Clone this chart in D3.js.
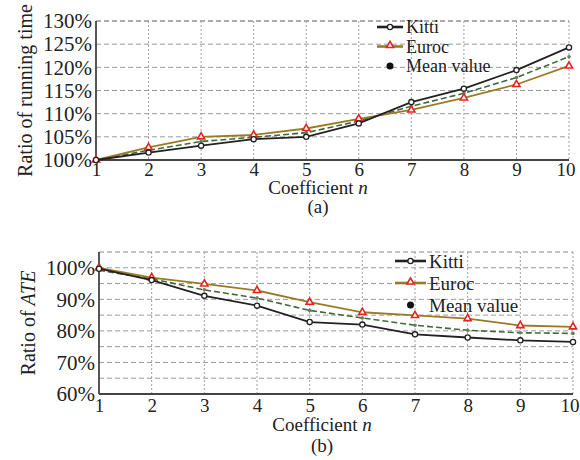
<!DOCTYPE html>
<html>
<head>
<meta charset="utf-8">
<script src="https://cdn.jsdelivr.net/npm/d3@7"></script>
<style>
  body { margin: 0; background: #fff; }
  svg text { font-family: "Liberation Serif", "DejaVu Serif", serif; fill: #222; }
</style>
</head>
<body>
<div id="chart"></div>
<script>
// data
var coeff = [1, 2, 3, 4, 5, 6, 7, 8, 9, 10];

var timeKitti = [100, 101.6, 103.1, 104.5, 105.0, 107.9, 112.5, 115.4, 119.4, 124.3];
var timeEuroc = [100, 102.7, 105.0, 105.4, 106.8, 108.9, 110.8, 113.4, 116.3, 120.3];
var timeMean  = [100, 102.1, 104.0, 104.9, 105.9, 108.4, 111.6, 114.4, 117.8, 122.3];
var timeTicks = [100, 105, 110, 115, 120, 125, 130];

var ateKitti = [99.7, 96.1, 91.1, 88.0, 82.8, 82.0, 78.9, 77.9, 77.0, 76.5];
var ateEuroc = [100, 96.9, 94.9, 92.8, 89.1, 85.9, 84.9, 83.9, 81.7, 81.3];
var ateMean  = [99.2, 96.5, 93.0, 90.4, 86.5, 84.1, 81.8, 80.2, 79.4, 79.2];
var ateTicks = [60, 70, 80, 90, 100];
var ateGrid  = [60, 65, 70, 75, 80, 85, 90, 95, 100];

var legendNames = ["Kitti", "Euroc", "Mean value"];

var width = 580, height = 460;
var svg = d3.select('#chart').append('svg')
            .attr('width', width)
            .attr('height', height);

var euColor = '#9a7b25';
var meanColor = '#3f6b3a';

function panel(opt) {
  var x = d3.scaleLinear().domain([1, 10]).range([opt.left, opt.right]);
  var y = d3.scaleLinear().domain(opt.yDomain).range([opt.bottom, opt.top]);
  var g = svg.append('g');

  // horizontal dashed grid
  g.selectAll('.hg').data(opt.grid).enter().append('line')
    .attr('x1', opt.left).attr('x2', opt.right)
    .attr('y1', function(d){ return y(d); }).attr('y2', function(d){ return y(d); })
    .attr('stroke', '#9a9a9a').attr('stroke-width', 1)
    .attr('stroke-dasharray', '5,3');
  // top border
  g.append('line')
    .attr('x1', opt.left).attr('x2', opt.right)
    .attr('y1', opt.top).attr('y2', opt.top)
    .attr('stroke', '#8a8a8a').attr('stroke-dasharray', '5,3');
  // vertical dotted grid
  g.selectAll('.vg').data(coeff.slice(1)).enter().append('line')
    .attr('x1', function(d){ return x(d); }).attr('x2', function(d){ return x(d); })
    .attr('y1', opt.top).attr('y2', opt.bottom)
    .attr('stroke', '#a0a0a0').attr('stroke-width', 1)
    .attr('stroke-dasharray', '2,2');

  // axes
  var xAxis = d3.axisBottom(x).tickValues(coeff).tickSize(0).tickPadding(opt.tickPad).tickFormat(d3.format('d'));
  var yAxis = d3.axisLeft(y).tickValues(opt.ticks).tickSize(0).tickPadding(4).tickFormat(function(d){ return d + '%'; });
  var ax = g.append('g').attr('transform', 'translate(0,' + opt.bottom + ')').call(xAxis);
  var ay = g.append('g').attr('transform', 'translate(' + opt.left + ',0)').call(yAxis);
  ax.select('.domain').remove();
  ay.select('.domain').remove();
  ax.selectAll('text').style('font-size', '19px').attr('font-family', null).attr('dy', '0.71em');
  ax.selectAll('text').filter(function(d){ return d === 10; })
    .attr('text-anchor', 'end').attr('x', 6);
  ay.selectAll('text').style('font-size', '21px').attr('font-family', null);
  g.append('line').attr('x1', opt.left).attr('x2', opt.left)
    .attr('y1', opt.top).attr('y2', opt.bottom)
    .attr('stroke', '#444').attr('stroke-width', 1.8);
  g.append('line').attr('x1', opt.left).attr('x2', opt.right)
    .attr('y1', opt.bottom).attr('y2', opt.bottom)
    .attr('stroke', '#444').attr('stroke-width', 1.8);

  var line = d3.line()
    .x(function(d, i){ return x(coeff[i]); })
    .y(function(d){ return y(d); });

  // mean dashed
  g.append('path').datum(opt.mean)
    .attr('d', line).attr('fill', 'none')
    .attr('stroke', meanColor).attr('stroke-width', 1.6)
    .attr('stroke-dasharray', '6,3');
  g.selectAll('.mp').data(opt.mean).enter().append('circle')
    .attr('cx', function(d, i){ return x(coeff[i]); })
    .attr('cy', function(d){ return y(d); })
    .attr('r', 1.8).attr('fill', '#6b7d62');

  // euroc
  g.append('path').datum(opt.euroc)
    .attr('d', line).attr('fill', 'none')
    .attr('stroke', euColor).attr('stroke-width', 1.8);
  var tri = d3.symbol().type(d3.symbolTriangle).size(22);
  g.selectAll('.ep').data(opt.euroc).enter().append('path')
    .attr('d', tri)
    .attr('transform', function(d, i){ return 'translate(' + x(coeff[i]) + ',' + y(d) + ')'; })
    .attr('fill', '#fff').attr('stroke', '#e8231f').attr('stroke-width', 1.6);

  // kitti
  g.append('path').datum(opt.kitti)
    .attr('d', line).attr('fill', 'none')
    .attr('stroke', '#222').attr('stroke-width', 1.8);
  g.selectAll('.kp').data(opt.kitti).enter().append('circle')
    .attr('cx', function(d, i){ return x(coeff[i]); })
    .attr('cy', function(d){ return y(d); })
    .attr('r', 2.6).attr('fill', '#fff').attr('stroke', '#222').attr('stroke-width', 1.3);

  // labels
  var yl = g.append('text')
    .attr('transform', 'translate(' + opt.yLabelX + ',' + ((opt.top + opt.bottom) / 2) + ') rotate(-90)')
    .attr('text-anchor', 'middle').attr('dy', '0.35em')
    .style('font-size', '20px');
  opt.yLabel.forEach(function(p){
    yl.append('tspan').text(p[0]).style('font-style', p[1] ? 'italic' : 'normal');
  });
  var xl = g.append('text')
    .attr('x', opt.xLabelX).attr('y', opt.bottom + opt.xlabOff)
    .attr('text-anchor', 'middle').style('font-size', '19px');
  xl.append('tspan').text('Coefficient ');
  xl.append('tspan').text('n').style('font-style', 'italic');
  g.append('text')
    .attr('x', opt.xLabelX).attr('y', opt.bottom + opt.subOff)
    .attr('text-anchor', 'middle').style('font-size', '19px')
    .text(opt.sub);

  // legend
  var lg = g.append('g');
  legendNames.forEach(function(name, i){
    var cy = opt.legY + i * opt.legStep;
    if (i === 0) {
      lg.append('line').attr('x1', opt.legX).attr('x2', opt.legX + opt.legW)
        .attr('y1', cy).attr('y2', cy).attr('stroke', '#222').attr('stroke-width', 2.6);
      lg.append('circle').attr('cx', opt.legX + opt.legW / 2).attr('cy', cy).attr('r', 2.6)
        .attr('fill', '#fff').attr('stroke', '#222').attr('stroke-width', 1.3);
    } else if (i === 1) {
      lg.append('line').attr('x1', opt.legX).attr('x2', opt.legX + opt.legW)
        .attr('y1', cy).attr('y2', cy).attr('stroke', euColor).attr('stroke-width', 2.6);
      lg.append('path').attr('d', tri)
        .attr('transform', 'translate(' + (opt.legX + opt.legW / 2) + ',' + (cy - 1) + ')')
        .attr('fill', '#fff').attr('stroke', '#e8231f').attr('stroke-width', 1.6);
    } else {
      lg.append('circle').attr('cx', opt.legX + opt.legW / 2).attr('cy', cy).attr('r', 3.5).attr('fill', '#111');
    }
    lg.append('text').attr('x', opt.legX + opt.legW + 3).attr('y', cy).attr('dy', '0.35em')
      .style('font-size', opt.legFont).text(name);
  });
}

panel({
  left: 96, right: 569, top: 21, bottom: 160,
  yDomain: [100, 130], ticks: timeTicks, grid: timeTicks.slice(1),
  kitti: timeKitti, euroc: timeEuroc, mean: timeMean,
  yLabel: [['Ratio of running time', false]], yLabelX: 25,
  xLabelX: 318, sub: '(a)', tickPad: 2, xlabOff: 34, subOff: 53,
  legX: 377, legW: 26, legY: 27, legStep: 19.5, legFont: '18px'
});

panel({
  left: 99, right: 573, top: 252, bottom: 394,
  yDomain: [60, 105], ticks: ateTicks, grid: ateGrid.slice(1),
  kitti: ateKitti, euroc: ateEuroc, mean: ateMean,
  yLabel: [['Ratio of ', false], ['ATE', true]], yLabelX: 28,
  xLabelX: 322, sub: '(b)', tickPad: 5, xlabOff: 37, subOff: 58,
  legX: 395, legW: 31, legY: 261, legStep: 22, legFont: '19px'
});
</script>
</body>
</html>
